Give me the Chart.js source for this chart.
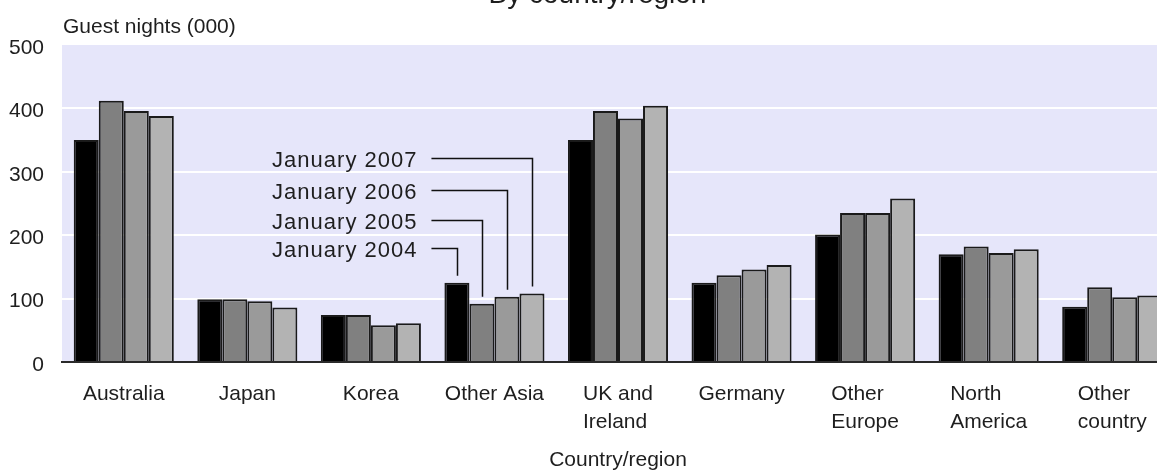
<!DOCTYPE html>
<html>
<head>
<meta charset="utf-8">
<script src="https://cdn.jsdelivr.net/npm/chart.js@4/dist/chart.umd.min.js"></script>
<style>
  html, body { margin: 0; padding: 0; overflow: hidden; background: #fff; }
  canvas { display: block; }
</style>
</head>
<body>
<canvas id="guest-nights-chart" width="1195" height="474"></canvas>
<script>
const CATEGORIES = ['Australia', 'Japan', 'Korea', 'Other Asia', ['UK and', 'Ireland'], 'Germany', ['Other', 'Europe'], ['North', 'America'], ['Other', 'country']];
const SERIES_LABELS = ['January 2004', 'January 2005', 'January 2006', 'January 2007'];
const JAN_2004 = [350, 99, 74, 125, 350, 125, 201, 170, 87];
const JAN_2005 = [412, 99, 74, 92, 396, 137, 235, 182, 118];
const JAN_2006 = [396, 96, 58, 103, 384, 146, 235, 172, 102];
const JAN_2007 = [388, 86, 61, 108, 404, 153, 258, 178, 105];
const Y_MIN = 0;
const Y_MAX = 500;
const Y_STEP = 100;
// labels inside the plot point at the Other Asia bars, placed at these y values
const ANNOTATED_CATEGORY = 3;
const ANNOTATION_LEVELS = [180, 224, 271, 321];

const CHART_TITLE = 'By country/region';
const Y_TITLE = 'Guest nights (000)';
const X_TITLE = 'Country/region';

const FONT_FAMILY = '"Liberation Sans", Arial, sans-serif';
const TEXT_COLOR = '#1e1e1e';
const BAR_COLORS = ['#000000', '#808080', '#9a9a9a', '#b3b3b3'];

Chart.defaults.font.family = FONT_FAMILY;
Chart.defaults.font.size = 21;
Chart.defaults.color = TEXT_COLOR;

const plotBackgroundPlugin = {
  id: 'plotBackground',
  beforeDraw(chart) {
    const {ctx, chartArea} = chart;
    ctx.save();
    ctx.fillStyle = '#e6e6fa';
    ctx.fillRect(chartArea.left, chartArea.top, chart.width - chartArea.left, chartArea.bottom - chartArea.top);
    ctx.restore();
  }
};

const seriesLabelsPlugin = {
  id: 'seriesLabels',
  afterDatasetsDraw(chart) {
    const {ctx} = chart;
    const yScale = chart.scales.y;
    const center = chart.scales.x.getPixelForValue(ANNOTATED_CATEGORY);
    const lineStart = center - 63;
    ctx.save();
    ctx.font = '22px ' + FONT_FAMILY;
    ctx.letterSpacing = '1px';
    ctx.fillStyle = TEXT_COLOR;
    ctx.strokeStyle = '#111';
    ctx.lineWidth = 1.5;
    ctx.textAlign = 'right';
    ctx.textBaseline = 'alphabetic';
    for (let i = 0; i < SERIES_LABELS.length; i++) {
      const bar = chart.getDatasetMeta(i).data[ANNOTATED_CATEGORY];
      const ly = Math.round(yScale.getPixelForValue(ANNOTATION_LEVELS[i])) + 0.5;
      ctx.fillText(SERIES_LABELS[i], lineStart - 14, ly + 8);
      const bx = Math.round(bar.x) + 0.5;
      ctx.beginPath();
      ctx.moveTo(lineStart, ly);
      ctx.lineTo(bx, ly);
      ctx.lineTo(bx, bar.y - 7);
      ctx.stroke();
    }
    ctx.restore();
  }
};

const chartTextPlugin = {
  id: 'chartText',
  afterDraw(chart) {
    const {ctx, chartArea} = chart;
    const xScale = chart.scales.x;
    ctx.save();
    ctx.fillStyle = TEXT_COLOR;
    ctx.textBaseline = 'alphabetic';

    // title sits mostly above the visible area
    ctx.font = '28px ' + FONT_FAMILY;
    ctx.textAlign = 'center';
    ctx.fillText(CHART_TITLE, chart.width / 2, 3);

    ctx.font = '21px ' + FONT_FAMILY;
    ctx.textAlign = 'left';
    ctx.fillText(Y_TITLE, chartArea.left + 1, 33);

    // category labels: each block left aligned, block centred on its tick
    for (let i = 0; i < CATEGORIES.length; i++) {
      const lines = Array.isArray(CATEGORIES[i]) ? CATEGORIES[i] : [CATEGORIES[i]];
      const blockWidth = Math.max(...lines.map(l => ctx.measureText(l).width));
      const left = xScale.getPixelForValue(i) - blockWidth / 2;
      lines.forEach((line, j) => ctx.fillText(line, left, 400 + j * 28));
    }

    ctx.textAlign = 'center';
    ctx.fillText(X_TITLE, (chartArea.left + chartArea.right) / 2, 466);
    ctx.restore();
  }
};

const guestNightsData = {
  labels: CATEGORIES,
  datasets: [JAN_2004, JAN_2005, JAN_2006, JAN_2007].map((values, i) => ({
    label: SERIES_LABELS[i],
    data: values,
    backgroundColor: BAR_COLORS[i],
    borderColor: '#1a1a1a',
    borderWidth: 2,
    categoryPercentage: 0.81,
    barPercentage: 1.0,
  })),
};

const guestNightsConfig = {
  type: 'bar',
  data: guestNightsData,
  options: {
    responsive: false,
    animation: false,
    layout: {
      padding: {top: 45, right: 21, bottom: 0, left: 0}
    },
    plugins: {
      legend: {display: false},
      title: {display: false},
      tooltip: {enabled: false},
    },
    scales: {
      x: {
        grid: {display: false},
        border: {display: true, color: '#2a2a2a', width: 2},
        ticks: {display: false},
        afterFit(scale) {
          scale.height = 112;
        }
      },
      y: {
        min: Y_MIN,
        max: Y_MAX,
        ticks: {
          stepSize: Y_STEP,
          padding: 18,
          labelOffset: 3,
          color: TEXT_COLOR,
          font: {size: 21},
        },
        grid: {
          drawTicks: false,
          lineWidth: 2,
          color: (ctx) => (ctx.tick && (ctx.tick.value === Y_MIN || ctx.tick.value === Y_MAX)) ? 'rgba(0,0,0,0)' : '#ffffff',
        },
        border: {display: false},
        afterFit(scale) {
          scale.width = 62;
        }
      }
    }
  },
  plugins: [plotBackgroundPlugin, seriesLabelsPlugin, chartTextPlugin],
};

const guestNightsCanvas = document.getElementById('guest-nights-chart');
const guestNightsChart = new Chart(guestNightsCanvas, guestNightsConfig);
</script>
</body>
</html>
